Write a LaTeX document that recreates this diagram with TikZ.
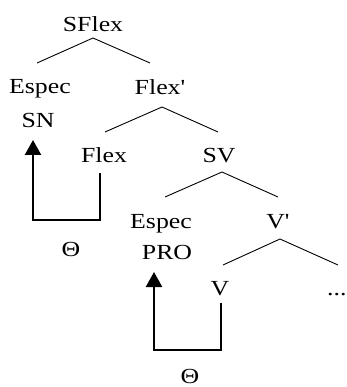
\documentclass[tikz,border=0pt]{standalone}
\usepackage{fontspec}
% a plain family: no TeX ligature mapping, so ' stays a straight prime
\newfontfamily\treefont[FakeStretch=1.2]{Liberation Serif}
\usetikzlibrary{arrows.meta}
\begin{document}
\begin{tikzpicture}[x=1pt,y=-1pt,
  lbl/.style={anchor=base,inner sep=0pt,font=\treefont\fontsize{21.5}{24}\selectfont},
  branch/.style={line width=0.9pt},
  theta/.style={line width=2.4pt,-{Triangle[width=16pt,length=15pt]}}]
\useasboundingbox (0,0) rectangle (346,387);

% labels of the tree
\node[lbl] (sflex)  at (93,32)  {SFlex};
\node[lbl] (espec1) at (40,94)  {Espec};
\node[lbl] (sn)     at (38,128) {SN};
\node[lbl] (flexb)  at (160,95) {Flex'};
\node[lbl] (flex)   at (104,163) {Flex};
\node[lbl] (sv)     at (219,163) {SV};
\node[lbl] (espec2) at (161,228) {Espec};
\node[lbl] (pro)    at (167,259) {PRO};
\node[lbl] (vb)     at (278,228) {V'};
\node[lbl] (v)      at (220,295) {V};
\node[lbl,anchor=base west] (dots) at (327,295) {...};
\node[lbl,anchor=center] (th1) at (71,249) {Θ};
\node[lbl,anchor=center] (th2) at (190,376) {Θ};

% branch points
\coordinate (sflexB) at (93,38);
\coordinate (espec1T) at (37,63);
\coordinate (flexbT) at (150,63);
\coordinate (flexbB) at (162,107);
\coordinate (flexT) at (105,132);
\coordinate (svT) at (218,132);
\coordinate (svB) at (222,172);
\coordinate (espec2T) at (165,197);
\coordinate (vbT) at (278,197);
\coordinate (vbB) at (280,239);
\coordinate (vT) at (223,265);
\coordinate (dotsT) at (338,265);

\draw[branch] (espec1T) -- (sflexB) -- (flexbT);
\draw[branch] (flexT) -- (flexbB) -- (svT);
\draw[branch] (espec2T) -- (svB) -- (vbT);
\draw[branch] (vT) -- (vbB) -- (dotsT);

% theta-role assignment paths
\coordinate (flexS) at (100,173);
\coordinate (snS) at (33,140);
\coordinate (vS) at (221,303);
\coordinate (proS) at (154,272);

\draw[theta] (flexS) -- (100,220) -- (33,220) -- (snS);
\draw[theta] (vS) -- (221,350) -- (154,350) -- (proS);
\end{tikzpicture}
\end{document}
